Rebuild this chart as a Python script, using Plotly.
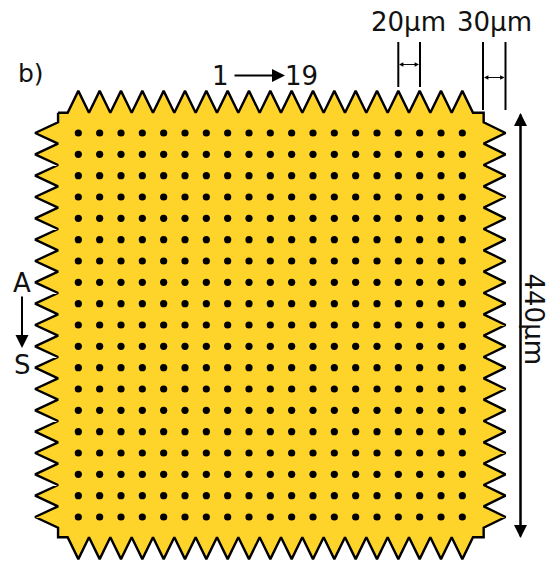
import plotly.graph_objects as go

# Array geometry in micrometres
columns = list(range(19))
rows = list(range(19))
pitch_um = 20
tip_um = 39.5
valley_um = 19

PX = 64 / 60  # pixels per micrometre
W, H = 548, 561
X0, Y0 = 78.33, 133.0
xr = [-X0 / PX, (W - X0) / PX]
yr = [(H - Y0) / PX, -Y0 / PX]


def px(x):
    return (x - X0) / PX


def py(y):
    return (y - Y0) / PX


end = (len(columns) - 1) * pitch_um
dot_x = [c * pitch_um for r in rows for c in columns]
dot_y = [r * pitch_um for r in rows for c in columns]

ox, oy = [], []
# top edge, left to right
ox += [-valley_um, -pitch_um / 2]
oy += [-valley_um, -valley_um]
for i, c in enumerate(columns):
    ox += [c * pitch_um]
    oy += [-tip_um]
    if i < len(columns) - 1:
        ox += [(c + 0.5) * pitch_um]
        oy += [-valley_um]
ox += [end + pitch_um / 2, end + valley_um + 1, end + valley_um + 1]
oy += [-valley_um, -valley_um, -pitch_um / 2]
# right edge, top to bottom
for i, r in enumerate(rows):
    ox += [end + tip_um + 1]
    oy += [r * pitch_um]
    if i < len(rows) - 1:
        ox += [end + valley_um + 1]
        oy += [(r + 0.5) * pitch_um]
ox += [end + valley_um + 1, end + valley_um + 1, end + pitch_um / 2]
oy += [end + pitch_um / 2, end + valley_um, end + valley_um]
# bottom edge, right to left
for i, c in enumerate(reversed(columns)):
    ox += [c * pitch_um]
    oy += [end + tip_um]
    if i < len(columns) - 1:
        ox += [(c - 0.5) * pitch_um]
        oy += [end + valley_um]
ox += [-pitch_um / 2, -valley_um, -valley_um]
oy += [end + valley_um, end + valley_um, end + pitch_um / 2]
# left edge, bottom to top
for i, r in enumerate(reversed(rows)):
    ox += [-tip_um - 1]
    oy += [r * pitch_um]
    if i < len(rows) - 1:
        ox += [-valley_um]
        oy += [(r - 0.5) * pitch_um]
ox += [-valley_um, -valley_um]
oy += [-pitch_um / 2, -valley_um]

fig = go.Figure()
fig.add_trace(go.Scatter(x=ox, y=oy, mode="lines", fill="toself", fillcolor="#FFD42A",
                         line=dict(color="#000000", width=2.4), hoverinfo="skip", showlegend=False))
fig.add_trace(go.Scatter(x=dot_x, y=dot_y, mode="markers",
                         marker=dict(color="#000000", size=7.2), hoverinfo="skip", showlegend=False))

# Dimension lines
for xp, y1, y2 in [(398.3, 42, 87), (420, 42, 87), (483, 42, 110), (505.5, 42, 110)]:
    fig.add_trace(go.Scatter(x=[px(xp), px(xp)], y=[py(y1), py(y2)], mode="lines",
                             line=dict(color="#000000", width=2), hoverinfo="skip", showlegend=False))


def arrow(x1, y1, x2, y2, size=1.0, width=1.0, head=2):
    fig.add_annotation(x=px(x2), y=py(y2), ax=px(x1), ay=py(y1), xref="x", yref="y",
                       axref="x", ayref="y", text="", showarrow=True, arrowhead=head,
                       arrowsize=size, arrowwidth=width, arrowcolor="#000000")


def darrow(x1, y1, x2, y2, size=1.0, width=1.0):
    arrow(x1, y1, x2, y2, size, width)
    arrow(x2, y2, x1, y1, size, width)


darrow(399, 64.5, 419, 64.5, 1.1, 0.8)
darrow(484, 77.5, 504.5, 77.5, 1.1, 0.8)
darrow(520.5, 113, 520.5, 538, 1.3, 2)
arrow(233, 75.5, 285, 75.5, 1.3, 2)
arrow(22, 295, 22, 348, 1.3, 2)


def label(text, x, y, size=26, angle=0):
    fig.add_annotation(x=px(x), y=py(y), xref="x", yref="y", text=text, showarrow=False,
                       textangle=angle, font=dict(family="DejaVu Sans", size=size, color="#111111"))


label("b)", 31, 73, 25)
label("1", 220, 76, 26)
label("19", 301, 76, 26)
label("20µm", 408, 22, 26)
label("30µm", 494, 22, 26)
label("A", 22, 283, 26)
label("S", 22, 365, 26)
label("440µm", 533.5, 319, 26, 90)

fig.update_layout(width=W, height=H, margin=dict(l=0, r=0, t=0, b=0),
                  plot_bgcolor="#FFFFFF", paper_bgcolor="#FFFFFF", showlegend=False)
fig.update_xaxes(range=xr, visible=False, fixedrange=True)
fig.update_yaxes(range=yr, visible=False, fixedrange=True)
fig.write_html("out.html", config={"displayModeBar": False},
               post_script="document.body.style.margin='0';document.body.style.overflow='hidden';")
